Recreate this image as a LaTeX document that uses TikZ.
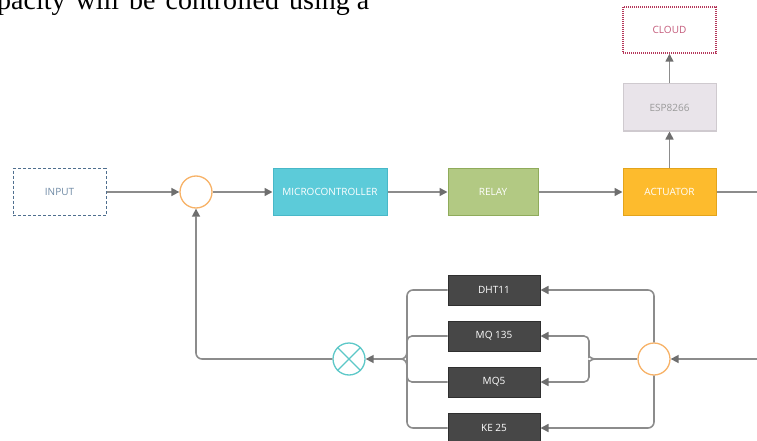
\documentclass[tikz,border=0pt]{standalone}
\usepackage{fontspec}
\setmainfont{Open Sans}
\newfontfamily\serifpara{Liberation Serif}
\usetikzlibrary{arrows.meta,shapes.misc}
\definecolor{lineg}{HTML}{8C8C8C}
\definecolor{tipg}{HTML}{6E6E6E}
\definecolor{inbord}{HTML}{4F6F8F}
\definecolor{intext}{HTML}{6F8AA5}
\definecolor{orangec}{HTML}{F7B267}
\definecolor{microf}{HTML}{5CCBD9}
\definecolor{microd}{HTML}{48B8C8}
\definecolor{relayf}{HTML}{B2C983}
\definecolor{relayd}{HTML}{8FAB5B}
\definecolor{actf}{HTML}{FDBB2D}
\definecolor{actd}{HTML}{E3A41C}
\definecolor{espf}{HTML}{E9E4EA}
\definecolor{espd}{HTML}{CFCACF}
\definecolor{espt}{HTML}{9A9A9A}
\definecolor{cloudd}{HTML}{B5375A}
\definecolor{cloudt}{HTML}{C45A7A}
\definecolor{sensf}{HTML}{474747}
\definecolor{sensd}{HTML}{2F2F2F}
\definecolor{xorc}{HTML}{5CC8C8}
\tikzset{
  x=1pt, y=-1pt,
  lbl/.style={font=\fontsize{10}{12}\selectfont},
  bigbox/.style={lbl, rectangle, minimum width=93pt, minimum height=47pt, inner sep=0pt, line width=1pt},
  sensbox/.style={lbl, rectangle, fill=sensf, draw=sensd, text=white, minimum width=92pt, minimum height=30pt, inner sep=0pt, line width=1pt},
  sumc/.style={circle, draw=orangec, fill=white, line width=1.3pt, minimum size=32pt, inner sep=0pt},
  conn/.style={draw=lineg, line width=1.6pt},
  arr/.style={conn, -{Triangle[length=8pt,width=8pt,fill=tipg,color=tipg]}},
}
\begin{document}
\begin{tikzpicture}
\useasboundingbox (0,0) rectangle (757,441);
% partial paragraph text at top
\node[anchor=base west, inner sep=0pt, font=\serifpara\fontsize{28}{30}\selectfont, text=black] (para) at (-3,9.5) {pacity\hspace{10pt}will\hspace{10pt}be\hspace{10pt}controlled\hspace{10pt}using\hspace{7pt}a};
% top row
\node[bigbox, draw=inbord, densely dashed, text=intext, fill=white] (input) at (59.5,192) {INPUT};
\node[sumc] (c1) at (196,192) {};
\node[bigbox, fill=microf, draw=microd, text=white, minimum width=114pt] (micro) at (330,192) {MICROCONTROLLER};
\node[bigbox, fill=relayf, draw=relayd, text=white, minimum width=90pt] (relay) at (493,192) {RELAY};
\node[bigbox, fill=actf, draw=actd, text=white] (act) at (669.5,192) {ACTUATOR};
\node[bigbox, fill=espf, draw=espd, text=espt] (esp) at (669.5,107.5) {ESP8266};
\node[bigbox, fill=white, draw=cloudd, densely dotted, line width=1.5pt, text=cloudt, minimum height=46pt] (cloud) at (669.5,30) {CLOUD};
\coordinate (outR) at (757,192);
% sensors
\node[sensbox] (dht) at (494,290) {DHT11};
\node[sensbox] (mqa) at (494,336) {MQ 135};
\node[sensbox] (mqb) at (494,382) {MQ5};
\node[sensbox] (ke) at (494,428) {KE 25};
\node[sumc] (c2) at (654,359) {};
\node[circle, draw=xorc, fill=white, line width=1.3pt, minimum size=32pt, inner sep=0pt] (xr) at (349,359) {};
\draw[xorc, line width=1.3pt] (xr.north east) -- (xr.south west) (xr.north west) -- (xr.south east);
\coordinate (inR) at (757,359);
\coordinate (tipL) at (401,359);
\coordinate (tipR) at (595,359);
% top row connectors
\draw[arr] (input.east) -- (c1.west);
\draw[arr] (c1.east) -- (micro.west);
\draw[arr] (micro.east) -- (relay.west);
\draw[arr] (relay.east) -- (act.west);
\draw[conn] (act.east) -- (outR);
\draw[arr] (act.north) -- (esp.south);
\draw[arr] (esp.north) -- (cloud.south);
% feedback input
\draw[arr] (inR) -- (c2.east);
\draw[arr, rounded corners=6pt] (c2.north) |- (dht.east);
\draw[arr, rounded corners=6pt] (c2.south) |- (ke.east);
\draw[conn] (c2.west) -- (tipR);
\draw[arr, rounded corners=5pt] (tipR) to[out=180,in=90] (589,366) -- (589,382) -- (mqb.east);
\draw[arr, rounded corners=5pt] (tipR) to[out=180,in=-90] (589,352) -- (589,336) -- (mqa.east);
% left bracket
\draw[conn, rounded corners=6pt] (dht.west) -- (407,290) -- (407,428) -- (ke.west);
\draw[conn, rounded corners=5pt] (mqa.west) -- (407,336) -- (407,350);
\draw[conn, rounded corners=5pt] (mqb.west) -- (407,382) -- (407,368);
\draw[conn] (407,352) to[out=-90,in=0] (tipL);
\draw[conn] (407,366) to[out=90,in=0] (tipL);
\draw[arr] (tipL) -- (xr.east);
\draw[arr, rounded corners=6pt] (xr.west) -| (c1.south);
\end{tikzpicture}
\end{document}
